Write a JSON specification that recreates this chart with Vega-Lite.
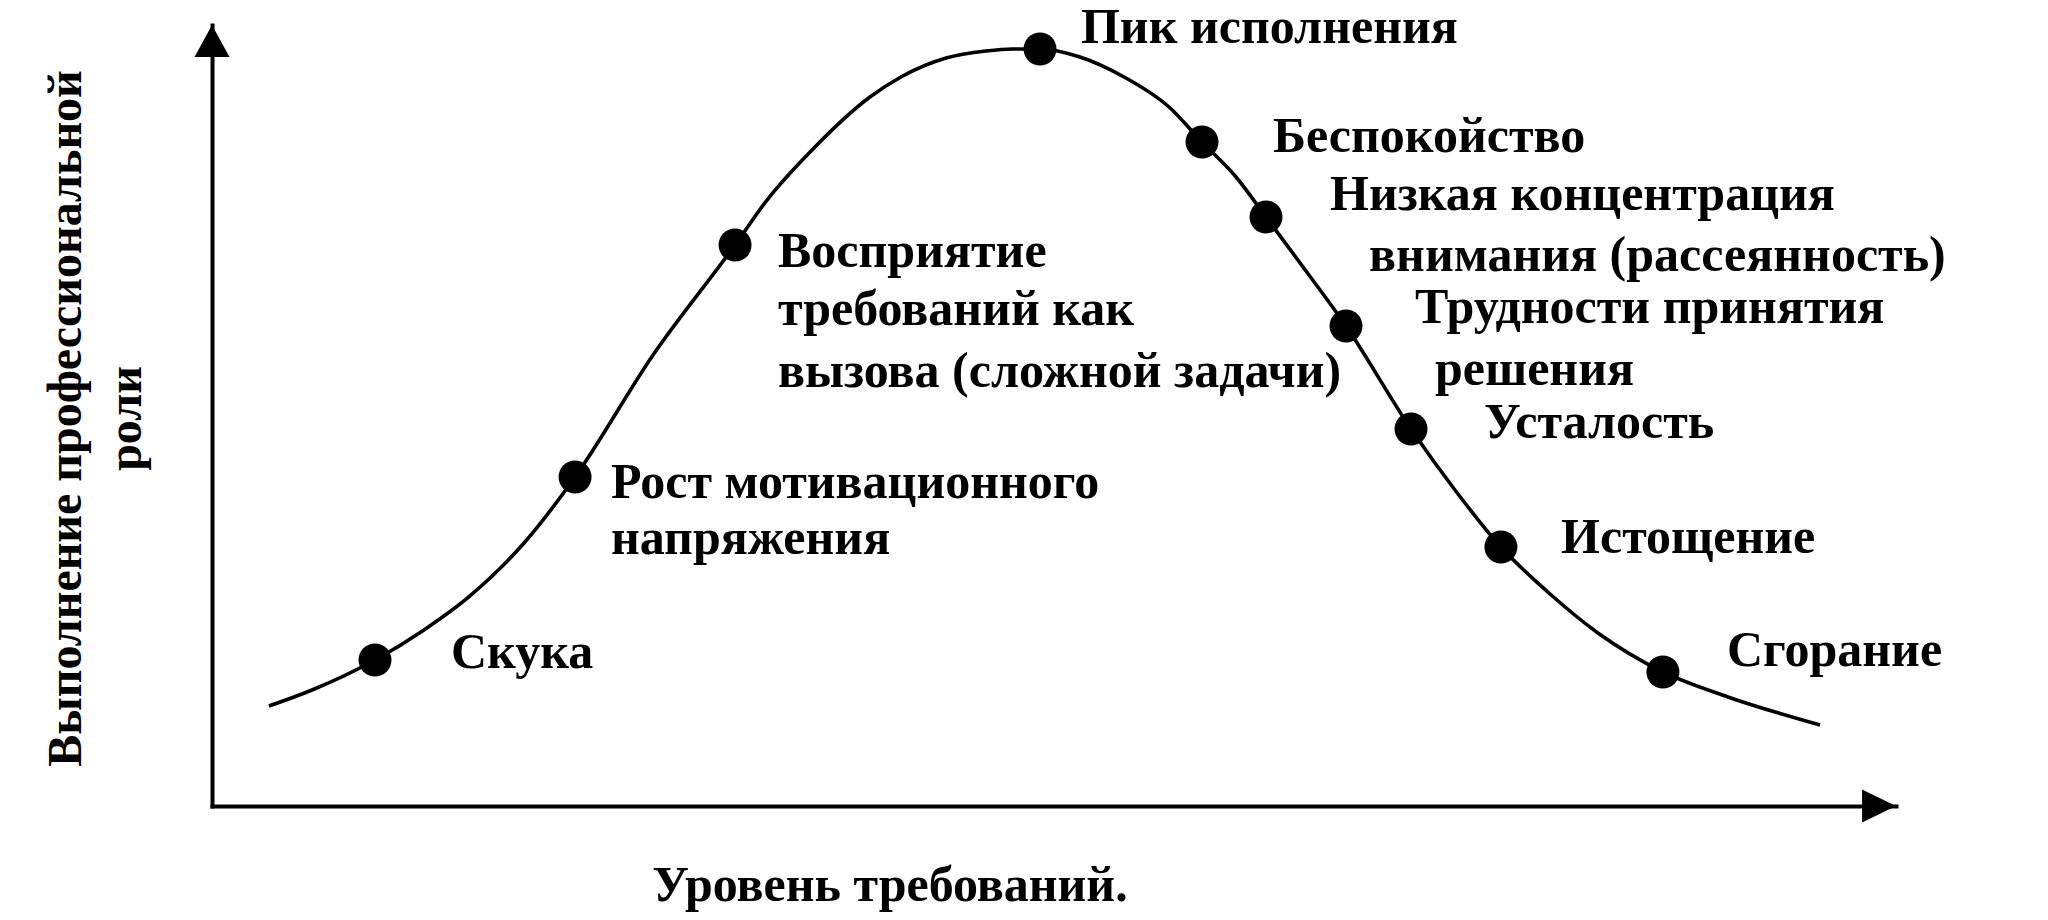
{
  "$schema": "https://vega.github.io/schema/vega-lite/v6.json",
  "width": 1684,
  "height": 781,
  "autosize": {"type": "none"},
  "padding": {"left": 212, "top": 25, "right": 152, "bottom": 114},
  "background": "white",
  "config": {"view": {"stroke": null}, "font": "Liberation Serif"},
  "datasets": {
    "curve": [
      {"x": 3.38, "y": 12.80}, {"x": 5.94, "y": 14.85}, {"x": 9.68, "y": 18.69},
      {"x": 12.59, "y": 22.54}, {"x": 15.32, "y": 26.89}, {"x": 18.53, "y": 33.67},
      {"x": 21.56, "y": 42.13}, {"x": 26.19, "y": 57.75},
      {"x": 31.06, "y": 71.83}, {"x": 32.96, "y": 77.59}, {"x": 35.63, "y": 84.00},
      {"x": 39.07, "y": 90.78}, {"x": 40.91, "y": 93.34}, {"x": 43.59, "y": 95.77},
      {"x": 45.96, "y": 96.67}, {"x": 47.51, "y": 96.93}, {"x": 49.17, "y": 96.93},
      {"x": 51.54, "y": 95.90}, {"x": 54.16, "y": 93.34}, {"x": 56.83, "y": 89.50},
      {"x": 58.79, "y": 85.02}, {"x": 60.81, "y": 80.54}, {"x": 62.59, "y": 75.42},
      {"x": 64.79, "y": 69.01}, {"x": 67.34, "y": 61.46}, {"x": 71.20, "y": 48.27},
      {"x": 73.81, "y": 40.46}, {"x": 76.54, "y": 33.16}, {"x": 79.39, "y": 27.27},
      {"x": 82.30, "y": 22.15}, {"x": 86.16, "y": 17.16}, {"x": 90.02, "y": 13.96},
      {"x": 95.49, "y": 10.37}
    ],
    "stages": [
      {"stage": "Скука", "x": 9.68, "y": 18.69},
      {"stage": "Рост мотивационного напряжения", "x": 21.56, "y": 42.13},
      {"stage": "Восприятие требований как вызова (сложной задачи)", "x": 31.06, "y": 71.83},
      {"stage": "Пик исполнения", "x": 49.17, "y": 96.93},
      {"stage": "Беспокойство", "x": 58.79, "y": 85.02},
      {"stage": "Низкая концентрация внимания (рассеянность)", "x": 62.59, "y": 75.42},
      {"stage": "Трудности принятия решения", "x": 67.34, "y": 61.46},
      {"stage": "Усталость", "x": 71.20, "y": 48.27},
      {"stage": "Истощение", "x": 76.54, "y": 33.16},
      {"stage": "Сгорание", "x": 86.16, "y": 17.16}
    ],
    "labels": [
      {"text": "Пик исполнения", "x": 51.60, "y": 99.6},
      {"text": "Беспокойство", "x": 63.00, "y": 85.60},
      {"text": "Низкая концентрация", "x": 66.39, "y": 78.23},
      {"text": "внимания (рассеянность)", "x": 68.71, "y": 70.42},
      {"text": "Трудности принятия", "x": 71.44, "y": 63.76},
      {"text": "решения", "x": 72.62, "y": 55.83},
      {"text": "Усталость", "x": 75.53, "y": 49.04},
      {"text": "Истощение", "x": 80.11, "y": 34.31},
      {"text": "Сгорание", "x": 89.96, "y": 19.85},
      {"text": "Скука", "x": 14.19, "y": 19.59},
      {"text": "Рост мотивационного", "x": 23.69, "y": 41.36},
      {"text": "напряжения", "x": 23.69, "y": 34.19},
      {"text": "Восприятие", "x": 33.61, "y": 70.93},
      {"text": "требований как", "x": 33.61, "y": 63.51},
      {"text": "вызова (сложной задачи)", "x": 33.61, "y": 55.57}
    ],
    "arrows": [
      {"axis": "y", "x": 0, "y": 100},
      {"axis": "x", "x": 100, "y": 0}
    ]
  },
  "layer": [
    {
      "data": {"name": "curve"},
      "mark": {"type": "line", "interpolate": "monotone", "color": "black", "strokeWidth": 3.6},
      "encoding": {
        "x": {
          "field": "x", "type": "quantitative",
          "scale": {"domain": [0, 100], "nice": false, "zero": false},
          "axis": {
            "title": "Уровень требований.",
            "ticks": false, "labels": false, "grid": false,
            "domain": true, "domainColor": "black", "domainWidth": 4, "domainCap": "square",
            "titleFont": "Liberation Serif", "titleFontSize": 50, "titleFontWeight": "bold", "titleColor": "black",
            "titleX": 677.5, "titleY": 79.5, "titleAlign": "center", "titleBaseline": "middle"
          }
        },
        "y": {
          "field": "y", "type": "quantitative",
          "scale": {"domain": [0, 100], "nice": false, "zero": false},
          "axis": {
            "title": ["Выполнение профессиональной", "роли"],
            "ticks": false, "labels": false, "grid": false,
            "domain": true, "domainColor": "black", "domainWidth": 4, "domainCap": "square",
            "titleFont": "Liberation Serif", "titleFontSize": 48, "titleFontWeight": "bold", "titleColor": "black",
            "titleX": -146, "titleY": 393, "titleAngle": 270, "titleAlign": "center", "titleBaseline": "middle",
            "titleLineHeight": 60
          }
        }
      }
    },
    {
      "data": {"name": "stages"},
      "mark": {"type": "point", "shape": "circle", "filled": true, "color": "black", "opacity": 1, "size": 1089},
      "encoding": {
        "x": {"field": "x", "type": "quantitative"},
        "y": {"field": "y", "type": "quantitative"},
        "tooltip": {"field": "stage", "type": "nominal"}
      }
    },
    {
      "data": {"name": "labels"},
      "mark": {"type": "text", "align": "left", "baseline": "middle", "font": "Liberation Serif", "fontWeight": "bold", "fontSize": 50, "color": "black"},
      "encoding": {
        "x": {"field": "x", "type": "quantitative"},
        "y": {"field": "y", "type": "quantitative"},
        "text": {"field": "text", "type": "nominal"}
      }
    },
    {
      "data": {"name": "arrows"},
      "mark": {"type": "point", "filled": true, "color": "black", "opacity": 1, "size": 1225, "strokeWidth": 0},
      "encoding": {
        "x": {"field": "x", "type": "quantitative"},
        "y": {"field": "y", "type": "quantitative"},
        "shape": {
          "field": "axis", "type": "nominal",
          "scale": {"domain": ["x", "y"], "range": ["M0,0L-1.94,-0.94L-1.94,0.94Z", "M0,0L1,1.83L-1,1.83Z"]},
          "legend": null
        }
      }
    }
  ]
}
